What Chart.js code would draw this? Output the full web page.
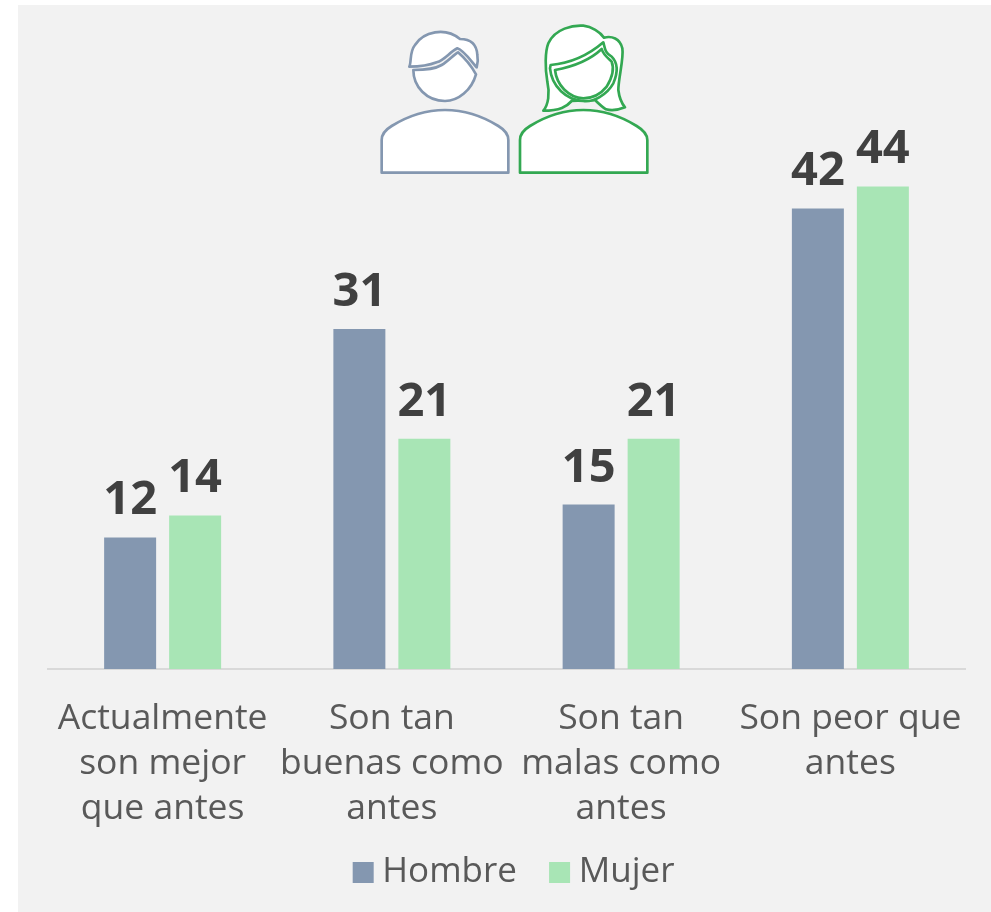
<!DOCTYPE html>
<html lang="es">
<head>
<meta charset="utf-8">
<title>Hombre / Mujer</title>
<script src="https://cdn.jsdelivr.net/npm/chart.js@4/dist/chart.umd.min.js"></script>
<style>
  html, body { margin: 0; padding: 0; background: #fff; }
  #page { position: relative; width: 991px; height: 912px; overflow: hidden; }
  #panel { position: absolute; left: 18px; top: 5px; right: 0; bottom: 0; background: #f2f2f2; }
  #wrap { position: absolute; left: 0; top: 0; width: 991px; height: 912px; }
  #icons { position: absolute; left: 370px; top: 15px; }
  #icons path { fill: #fff; stroke-width: 8; stroke-linejoin: round; }
  .man path { stroke: #8497b0; }
  .woman path { stroke: #33a852; }
</style>
</head>
<body>
<div id="page">
  <div id="panel"></div>
  <div id="wrap"><canvas id="chart"></canvas></div>
  <svg id="icons" width="290" height="170" viewBox="0 0 870 510">
    <g class="man">
      <path d="M35,473 L415,473 L415,375 C415,355 400,342 385,333 C340,305 285,285 225,285 C165,285 110,305 65,333 C50,342 35,355 35,375 Z"/>
      <path d="M130,165 C165,165 195,162 215,150 C235,138 250,120 264,112 C285,130 305,155 318,178 C305,225 265,258 225,258 C170,258 130,215 130,165 Z"/>
      <path d="M118,155 C125,140 118,110 135,90 C160,50 225,35 270,72 C300,72 320,85 322,120 C325,135 322,150 320,157 C305,140 280,105 262,100 C240,110 225,135 200,142 C175,152 140,155 118,155 Z"/>
    </g>
    <g class="woman">
      <path d="M520,287 C535,270 540,235 532,200 C525,160 525,110 535,85 C555,40 610,30 640,32 C665,35 690,50 702,68 C725,62 750,70 757,100 C762,130 745,190 745,225 C748,250 755,265 765,277 C745,285 725,288 708,283 C695,275 685,265 675,255 L605,258 C590,275 570,287 520,287 Z"/>
      <path d="M450,473 L832,473 L832,375 C832,355 815,342 800,333 C755,305 700,285 640,285 C580,285 525,305 480,333 C465,342 450,355 450,375 Z"/>
      <path d="M542,150 C600,145 650,125 700,82 C705,100 705,115 725,125 C745,145 745,170 730,205 C710,240 670,262 640,258 C590,255 545,215 540,160 Z"/>
      <path d="M555,165 C610,155 660,135 695,102 C700,120 715,130 725,140 C735,165 725,190 710,215 C690,240 665,250 640,250 C595,248 560,210 555,165 Z"/>
    </g>
  </svg>
</div>
<script>
  const categories = [
    ["Actualmente", "son mejor", "que antes"],
    ["Son tan", "buenas como", "antes"],
    ["Son tan", "malas como", "antes"],
    ["Son peor que", "antes"],
  ];
  const hombre = [12, 31, 15, 42];
  const mujer = [14, 21, 21, 44];

  const blue = "#8497b0";
  const green = "#a8e5b5";
  const fontName = "'Open Sans', sans-serif";

  const valueLabels = {
    id: "valueLabels",
    afterLayout(chart) {
      // legend sits off the chart area centre, close under the long tick labels
      const legend = chart.legend;
      const h = legend.height;
      legend.left += 11.5;
      legend.right += 11.5;
      legend.top = 814;
      legend.bottom = 814 + h;
    },
    afterDatasetsDraw(chart) {
      const ctx = chart.ctx;
      ctx.save();
      ctx.font = "bold 47px " + fontName;
      ctx.fillStyle = "#404040";
      ctx.textAlign = "center";
      ctx.textBaseline = "alphabetic";
      chart.data.datasets.forEach((ds, i) => {
        chart.getDatasetMeta(i).data.forEach((bar, j) => {
          ctx.fillText(ds.data[j], bar.x, bar.y - 23);
        });
      });
      ctx.restore();
    },
  };

  new Chart(document.getElementById("chart"), {
    type: "bar",
    data: {
      labels: categories,
      datasets: [
        { label: "Hombre", data: hombre, backgroundColor: blue },
        { label: "Mujer", data: mujer, backgroundColor: green },
      ],
    },
    plugins: [valueLabels],
    options: {
      responsive: true,
      maintainAspectRatio: false,
      animation: false,
      categoryPercentage: 0.567,
      barPercentage: 0.8,
      layout: { padding: { left: 48, right: 26, top: 11, bottom: -24 } },
      plugins: {
        tooltip: { enabled: false },
        legend: {
          position: "bottom",
          labels: {
            usePointStyle: true,
            pointStyle: "rect",
            boxWidth: 3.25,
            boxHeight: 21,
            padding: 41,
            color: "#595959",
            font: { family: fontName, size: 35 },
          },
        },
      },
      scales: {
        x: {
          grid: { display: false },
          border: { color: "#d9d9d9", width: 2 },
          ticks: {
            color: "#595959",
            font: { family: fontName, size: 35.5, lineHeight: "45px" },
            padding: 19,
            maxRotation: 0,
            autoSkip: false,
          },
        },
        y: { display: false, min: 0, max: 60 },
      },
    },
  });
</script>
</body>
</html>
